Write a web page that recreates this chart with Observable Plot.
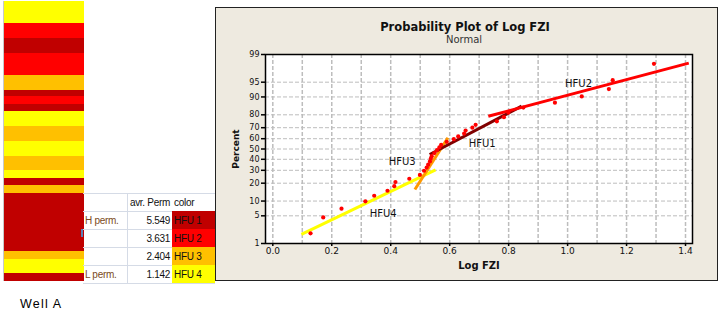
<!DOCTYPE html>
<html><head><meta charset="utf-8">
<script src="https://cdn.jsdelivr.net/npm/d3@7"></script>
<script src="https://cdn.jsdelivr.net/npm/@observablehq/plot@0.6"></script>
<style>
html,body{margin:0;padding:0;background:#fff;}
#root{position:relative;width:722px;height:310px;overflow:hidden;font-family:"Liberation Sans",Arial,sans-serif;}
#strip{position:absolute;left:3px;top:1px;border-left:1px solid #c8c8c8;}
#panel{position:absolute;left:215px;top:7px;border:1px solid #222;width:501px;height:272px;background:#eeeae0;}
#well{position:absolute;left:20px;top:297px;font-size:12.5px;letter-spacing:1.2px;color:#000;}
#tbl{position:absolute;left:83px;top:193px;width:132px;table-layout:fixed;border-collapse:collapse;font-family:"Liberation Sans",Arial,sans-serif;font-size:10px;letter-spacing:-0.3px;color:#111;}
#tbl td{border-top:1px solid #d5dbe6;padding:0;height:17px;line-height:17px;white-space:nowrap;overflow:hidden;box-sizing:border-box;}
#tbl td.c1{padding-left:2px;border-right:1px solid #d5dbe6;color:#7b4a1b;}
#tbl td.c2{padding-right:2px;text-align:right;}
#tbl td.c3{padding-left:2px;}
#tbl tr:last-child td{border-bottom:1px solid #d5dbe6;}
#mark{position:absolute;left:81px;top:229px;width:2px;height:8px;background:#5b7fb5;}
</style></head>
<body><div id="root">
<div id="strip"></div>
<table id="tbl"><colgroup><col style="width:44px"><col style="width:45px"><col style="width:43px"></colgroup><tbody id="tb"></tbody></table>
<div id="mark"></div>
<div id="well">Well A</div>
<div id="panel"></div>
</div>
<script>
// ---------- data ----------
// well-log strip: flow unit intervals (depth units, top to bottom)
const bandTop    = [0, 22, 37, 52, 74, 89, 95, 103, 110, 125, 140, 155, 169, 177, 184, 192, 250, 258, 272];
const bandBottom = [22, 37, 52, 74, 89, 95, 103, 110, 125, 140, 155, 169, 177, 184, 192, 250, 258, 272, 280];
const bandUnit   = ["HFU 4","HFU 2","HFU 1","HFU 2","HFU 3","HFU 1","HFU 2","HFU 1","HFU 4","HFU 3","HFU 4","HFU 3","HFU 4","HFU 1","HFU 3","HFU 1","HFU 3","HFU 4","HFU 1"];

// table
const tableLabels = ["H perm.", "", "", "L perm."];
const tablePerm   = ["5.549", "3.631", "2.404", "1.142"];
const tableUnits  = ["HFU 1", "HFU 2", "HFU 3", "HFU 4"];

// probability plot points (Log FZI, percent)
const logFZI = [0.128,0.171,0.233,0.314,0.344,0.389,0.412,0.416,0.463,0.499,0.513,0.522,0.527,0.533,0.536,0.539,0.548,0.557,0.565,0.571,0.590,0.614,0.629,0.649,0.654,0.677,0.688,0.760,0.784,0.799,0.850,0.957,1.048,1.140,1.153,1.293];
const percent = [1.9,4.6,7.1,9.9,12.5,15.2,18.0,20.8,23.2,26.2,29.6,32.4,35.0,38.0,40.6,43.0,46.0,48.8,51.5,54.0,57.0,59.6,62.2,64.8,67.5,70.0,72.4,75.2,78.3,81.5,84.6,87.3,90.2,93.0,95.5,98.2];

// fitted lines per flow unit
const lineUnit = ["HFU4", "HFU3", "HFU1", "HFU2"];
const lineX1   = [0.097, 0.482, 0.532, 0.731];
const lineX2   = [0.552, 0.594, 0.844, 1.411];
const linePct1 = [1.77, 15.9, 44.6, 79.0];
const linePct2 = [30.4, 60.9, 85.4, 98.27];

// labels
const labelText = ["HFU2", "HFU1", "HFU3", "HFU4"];
const labelX    = [1.037, 0.710, 0.439, 0.3745];
const labelPct  = [94.65, 55.1, 37.3, 5.54];

// axes
const yTickPct = [1, 5, 10, 20, 30, 40, 50, 60, 70, 80, 90, 95, 99];
const xTicks = [0.0, 0.2, 0.4, 0.6, 0.8, 1.0, 1.2, 1.4];
const xGrid = [0.0, 0.1, 0.2, 0.3, 0.4, 0.5, 0.6, 0.7, 0.8, 0.9, 1.0, 1.1, 1.2, 1.3, 1.4];

// ---------- helpers ----------
function probit(p){
  const a=[-3.969683028665376e+01,2.209460984245205e+02,-2.759285104469687e+02,1.383577518672690e+02,-3.066479806614716e+01,2.506628277459239e+00];
  const b=[-5.447609879822406e+01,1.615858368580409e+02,-1.556989798598866e+02,6.680131188771972e+01,-1.328068155288572e+01];
  const c=[-7.784894002430293e-03,-3.223964580411365e-01,-2.400758277161838e+00,-2.549732539343734e+00,4.374664141464968e+00,2.938163982698783e+00];
  const d=[7.784695709041462e-03,3.224671290700398e-01,2.445134137142996e+00,3.754408661907416e+00];
  const pl=0.02425, ph=1-pl; let q,r;
  if(p<pl){q=Math.sqrt(-2*Math.log(p));return (((((c[0]*q+c[1])*q+c[2])*q+c[3])*q+c[4])*q+c[5])/((((d[0]*q+d[1])*q+d[2])*q+d[3])*q+1);}
  if(p>ph){q=Math.sqrt(-2*Math.log(1-p));return -(((((c[0]*q+c[1])*q+c[2])*q+c[3])*q+c[4])*q+c[5])/((((d[0]*q+d[1])*q+d[2])*q+d[3])*q+1);}
  q=p-0.5;r=q*q;return (((((a[0]*r+a[1])*r+a[2])*r+a[3])*r+a[4])*r+a[5])*q/(((((b[0]*r+b[1])*r+b[2])*r+b[3])*r+b[4])*r+1);
}
const zOf = pct => probit(pct / 100);

const unitColors = {domain: ["HFU 1","HFU 2","HFU 3","HFU 4"], range: ["#c00000","#ff0000","#ffc000","#ffff00"]};

// ---------- strip ----------
const bands = bandTop.map((t, i) => ({top: t, bottom: bandBottom[i], unit: bandUnit[i]}));
const strip = Plot.plot({
  width: 80, height: 280, margin: 0,
  x: {axis: null, domain: [0, 1]},
  y: {axis: null, domain: [0, 280], reverse: true},
  color: unitColors,
  style: {background: "transparent"},
  marks: [
    Plot.rect(bands, {x1: () => 0, x2: () => 1, y1: "top", y2: "bottom", fill: "unit", shapeRendering: "crispEdges"})
  ]
});
document.getElementById("strip").appendChild(strip);

// ---------- table ----------
const unitFill = new Map(unitColors.domain.map((d, i) => [d, unitColors.range[i]]));
document.getElementById("tb").innerHTML = `<tr><td class="c1"></td><td class="c2">avr. Perm</td><td class="c3">color</td></tr>` +
  tableUnits.map((u, i) => `<tr><td class="c1">${tableLabels[i]}</td><td class="c2">${tablePerm[i]}</td><td class="c3" style="background:${unitFill.get(u)};border-top-color:${unitFill.get(u)}">${u}</td></tr>`).join("");

// ---------- probability plot ----------
const pts = logFZI.map((x, i) => ({x, z: zOf(percent[i])}));
const fits = lineUnit.map((u, i) => ({unit: u, x1: lineX1[i], x2: lineX2[i], z1: zOf(linePct1[i]), z2: zOf(linePct2[i])}));
const labs = labelText.map((t, i) => ({t, x: labelX[i], z: zOf(labelPct[i])}));
const yTickZ = yTickPct.map(zOf);
const yLabel = new Map(yTickZ.map((z, i) => [z, String(yTickPct[i])]));

const prob = Plot.plot({
  width: 501, height: 272,
  marginLeft: 49, marginTop: 46, marginRight: 25, marginBottom: 37,
  x: {domain: [-0.0248, 1.4237]},
  y: {domain: [zOf(1), zOf(99)]},
  color: {domain: ["HFU1","HFU2","HFU3","HFU4"], range: ["#800000","#ff0000","#ff9900","#ffff00"]},
  style: {background: "#eeeae0", fontFamily: "DejaVu Sans, Verdana, sans-serif", fontSize: "9px", color: "#111", overflow: "visible"},
  marks: [
    Plot.frame({fill: "white", stroke: null}),
    Plot.ruleX(xGrid, {stroke: "#bdbdbd", strokeWidth: 1.5, strokeDasharray: "4,2"}),
    Plot.ruleY(yTickZ, {stroke: "#bdbdbd", strokeWidth: 1, strokeDasharray: "4,2"}),
    Plot.frame({stroke: "#000", strokeWidth: 1.5}),
    Plot.link(fits, {x1: "x1", x2: "x2", y1: "z1", y2: "z2", stroke: "unit", strokeWidth: 3}),
    Plot.dot(pts, {x: "x", y: "z", r: 2.1, fill: "#ff0000", stroke: null}),
    Plot.text(labs, {x: "x", y: "z", text: "t", fontSize: 10, fill: "#111"}),
    Plot.axisX(xTicks, {tickSize: 3, tickPadding: 1, tickFormat: d => d.toFixed(1), label: null, fontSize: 9, stroke: "#000", strokeWidth: 1.5}),
    Plot.axisY(yTickZ, {tickSize: 4, tickPadding: 2, tickFormat: z => yLabel.get(z), label: null, fontSize: 8, stroke: "#000", strokeWidth: 1.5}),
    Plot.text(["Probability Plot of Log FZI"], {frameAnchor: "top", lineAnchor: "middle", textAnchor: "middle", dx: -14, dy: -27, fontWeight: "bold", fontSize: 11.5, fill: "#111"}),
    Plot.text(["Normal"], {frameAnchor: "top", lineAnchor: "middle", textAnchor: "middle", dx: -15, dy: -15, fontSize: 10, fill: "#333"}),
    Plot.text(["Log FZI"], {frameAnchor: "bottom", lineAnchor: "middle", textAnchor: "middle", dy: 22, fontWeight: "bold", fontSize: 10, fill: "#111"}),
    Plot.text(["Percent"], {frameAnchor: "left", lineAnchor: "middle", textAnchor: "middle", dx: -29, rotate: -90, fontWeight: "bold", fontSize: 9, fill: "#111"})
  ]
});
document.getElementById("panel").appendChild(prob);
</script>
</body></html>
